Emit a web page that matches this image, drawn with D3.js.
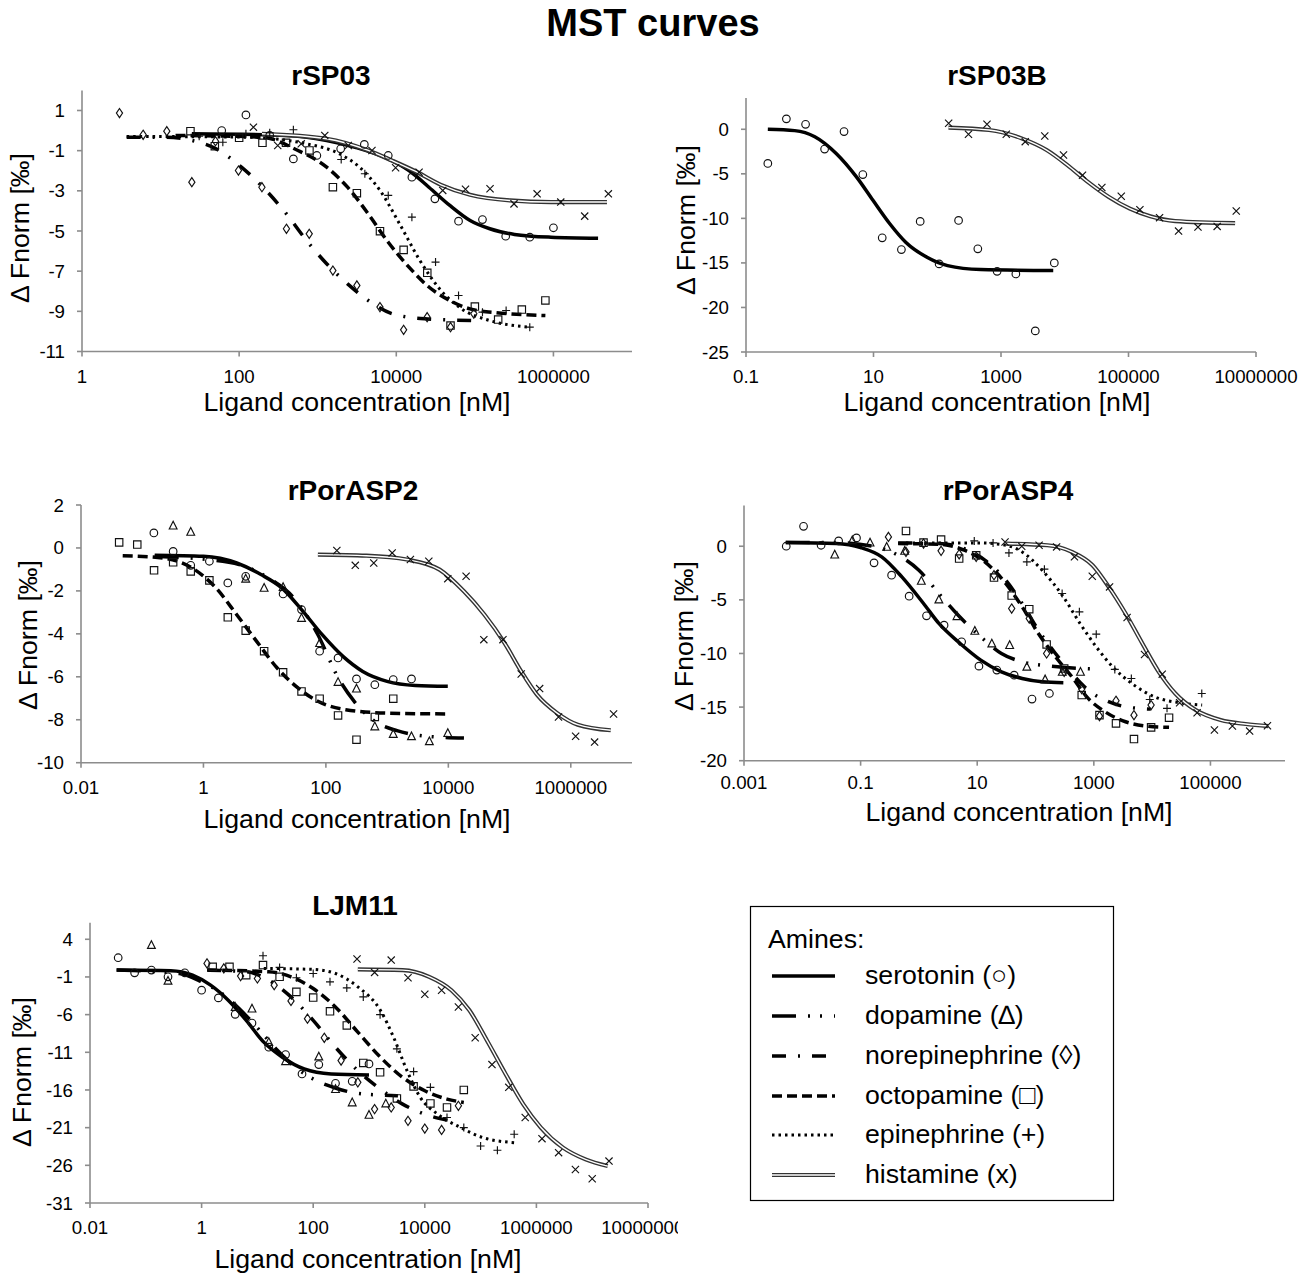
<!DOCTYPE html>
<html><head><meta charset="utf-8">
<script src="https://cdn.jsdelivr.net/npm/d3@7"></script>
<style>
body{margin:0;background:#fff}
svg{display:block}
text{font-family:"Liberation Sans",Arial,Helvetica,sans-serif;fill:#000}
</style>
</head><body>
<svg id="c" width="1299" height="1281"></svg>
<script>
// ---------------- DATA ----------------
const amines = ["serotonin","dopamine","norepinephrine","octopamine","epinephrine","histamine"];
const legendLabels = ["serotonin (\u25CB)","dopamine (\u2206)","norepinephrine (\u25CA)","octopamine (\u25A1)","epinephrine (+)","histamine (x)"];

// tick labels
const rSP03_xTicks = [1,100,10000,1000000];
const rSP03_yTicks = [1,-1,-3,-5,-7,-9,-11];
const rSP03B_xTicks = [0.1,10,1000,100000,10000000];
const rSP03B_yTicks = [0,-5,-10,-15,-20,-25];
const rPorASP2_xTicks = [0.01,1,100,10000,1000000];
const rPorASP2_yTicks = [2,0,-2,-4,-6,-8,-10];
const rPorASP4_xTicks = [0.001,0.1,10,1000,100000];
const rPorASP4_yTicks = [0,-5,-10,-15,-20];
const LJM11_xTicks = [0.01,1,100,10000,1000000,100000000];
const LJM11_yTicks = [4,-1,-6,-11,-16,-21,-26,-31];

// measured points [concentration nM, dFnorm]
const rSP03_points = {
  serotonin: [[60,0.0],[122,0.78],[245,-0.24],[490,-1.41],[975,-1.24],[1960,-0.91],[3920,-0.69],[7900,-1.24],[15800,-2.32],[31000,-3.40],[62000,-4.51],[125000,-4.43],[247000,-5.26],[500000,-5.31],[1000000,-4.84]],
  norepinephrine: [[3,0.87],[6,-0.21],[12,-0.03],[25,-2.57],[50,-0.53],[98,-1.99],[195,-2.82],[400,-4.89],[780,-5.14],[1560,-6.97],[3150,-7.71],[6200,-8.79],[12400,-9.92],[24700,-9.29],[49000,-9.79],[97000,-9.12]],
  octopamine: [[24,-0.03],[49,-0.78],[100,-0.36],[198,-0.61],[395,-0.61],[785,-0.99],[1560,-2.82],[3150,-3.12],[6200,-5.01],[12400,-5.94],[24800,-7.08],[49000,-9.71],[100000,-8.76],[198000,-9.41],[396000,-8.91],[790000,-8.46]],
  epinephrine: [[31,-0.28],[62,-0.58],[122,-0.16],[245,-0.11],[490,0.04],[1990,-1.44],[3980,-2.15],[7900,-3.23],[15800,-4.31],[31600,-6.55],[62000,-8.21],[125000,-9.04],[250000,-8.96],[500000,-9.79]],
  histamine: [[152,0.17],[310,-0.74],[617,-0.66],[1230,-0.24],[2450,-0.74],[4900,-0.99],[9800,-1.85],[19500,-2.07],[39000,-2.98],[76000,-2.92],[156000,-2.90],[315000,-3.65],[620000,-3.15],[1240000,-3.56],[2500000,-4.26],[5000000,-3.15]]
};
const rSP03_fits = {
  serotonin: [[25,-0.16],[400,-0.24],[1300,-0.49],[3000,-0.83],[7900,-1.41],[14500,-1.99],[26000,-2.82],[48000,-3.73],[87000,-4.48],[155000,-4.89],[320000,-5.17],[930000,-5.31],[3700000,-5.36]],
  norepinephrine: [[3.7,-0.33],[11,-0.33],[25,-0.49],[51,-0.91],[107,-1.82],[220,-2.98],[400,-4.15],[720,-5.47],[1300,-6.63],[2400,-7.63],[4400,-8.46],[8900,-9.12],[23000,-9.37],[98000,-9.46]],
  octopamine: [[15.5,-0.24],[195,-0.33],[560,-0.99],[1300,-1.82],[2400,-2.82],[4400,-4.15],[7900,-5.56],[14500,-6.80],[26000,-7.79],[48000,-8.46],[87000,-8.88],[220000,-9.09],[790000,-9.21]],
  epinephrine: [[3.7,-0.29],[120,-0.33],[720,-0.66],[1900,-1.16],[3400,-1.82],[6200,-2.98],[11000,-4.64],[20000,-6.47],[37000,-7.96],[68000,-8.88],[155000,-9.46],[510000,-9.79]],
  histamine: [[195,-0.16],[1300,-0.41],[4400,-0.99],[8900,-1.50],[18000,-2.05],[37000,-2.70],[87000,-3.20],[280000,-3.48],[930000,-3.56],[4800000,-3.56]]
};

const rSP03B_points = {
  serotonin: [[0.22,-3.83],[0.43,1.17],[0.86,0.56],[1.71,-2.22],[3.45,-0.26],[6.8,-5.08],[13.7,-12.18],[27.4,-13.5],[54,-10.34],[107,-15.11],[216,-10.23],[433,-13.42],[869,-15.94],[1710,-16.24],[3450,-22.63],[6860,-15.0]],
  histamine: [[151,0.68],[309,-0.56],[603,0.56],[1210,-0.56],[2400,-1.39],[4860,-0.75],[9560,-2.89],[19000,-5.15],[38200,-6.54],[77000,-7.52],[151000,-9.02],[307000,-9.92],[610000,-11.43],[1230000,-10.98],[2460000,-10.90],[4900000,-9.17]]
};
const rSP03B_fits = {
  serotonin: [[0.22,0],[0.58,-0.15],[1.2,-0.83],[2.6,-2.71],[5.4,-5.34],[9.8,-7.97],[18,-10.6],[32,-12.67],[69,-14.36],[145,-15.3],[480,-15.75],[6600,-15.86]],
  histamine: [[150,0.19],[650,-0.08],[2100,-1.02],[5200,-2.33],[11000,-4.02],[23000,-5.90],[49000,-7.59],[105000,-8.91],[220000,-9.77],[540000,-10.3],[4700000,-10.53]]
};

const rPorASP2_points = {
  serotonin: [[0.155,0.70],[0.32,-0.16],[0.62,-0.81],[1.25,-0.62],[2.5,-1.63],[4.9,-1.32],[20,-2.14],[40,-2.87],[79,-4.81],[158,-5.12],[316,-6.10],[630,-6.37],[1260,-6.13],[2500,-6.10]],
  dopamine: [[0.32,1.04],[0.62,0.75],[4.9,-1.43],[9.8,-1.86],[20,-1.82],[40,-3.26],[79,-4.43],[158,-6.24],[316,-6.55],[630,-8.31],[1260,-8.66],[2500,-8.77],[4900,-9.0],[9800,-8.62]],
  octopamine: [[0.042,0.26],[0.083,0.16],[0.156,-1.04],[0.32,-0.67],[0.62,-1.09],[1.25,-1.51],[2.5,-3.23],[4.9,-3.85],[9.8,-4.81],[20,-5.79],[40,-6.68],[79,-7.02],[158,-7.80],[316,-8.93],[630,-7.87],[1260,-7.02]],
  histamine: [[151,-0.12],[302,-0.81],[605,-0.70],[1210,-0.23],[2400,-0.54],[4800,-0.62],[9800,-1.43],[19500,-1.32],[38000,-4.27],[78000,-4.27],[155000,-5.87],[310000,-6.55],[630000,-7.87],[1200000,-8.77],[2450000,-9.04],[5000000,-7.73]]
};
const rPorASP2_fits = {
  serotonin: [[0.16,-0.34],[1.0,-0.39],[3.5,-0.70],[8.7,-1.24],[19,-1.86],[40,-2.87],[87,-4.04],[190,-5.05],[400,-5.75],[1000,-6.21],[2900,-6.40],[9800,-6.44]],
  dopamine: [[0.16,-0.39],[2.6,-0.67],[12,-1.43],[30,-2.33],[74,-4.04],[160,-6.06],[290,-7.14],[630,-8.07],[1450,-8.51],[4600,-8.77],[18000,-8.85]],
  octopamine: [[0.048,-0.36],[0.22,-0.47],[0.65,-0.93],[1.6,-1.86],[3.5,-3.11],[7.4,-4.35],[16,-5.59],[35,-6.52],[74,-7.14],[210,-7.53],[1000,-7.69],[9800,-7.73]],
  histamine: [[74,-0.31],[460,-0.36],[2100,-0.54],[7200,-1.01],[18000,-2.02],[39000,-3.11],[83000,-4.43],[155000,-5.75],[280000,-6.83],[600000,-7.69],[1300000,-8.23],[4500000,-8.49]]
};

const rPorASP4_points = {
  serotonin: [[0.0053,0],[0.0105,1.86],[0.021,0.09],[0.042,0.5],[0.085,0.78],[0.17,-1.55],[0.34,-2.70],[0.68,-4.66],[1.35,-6.49],[2.7,-7.36],[5.4,-8.91],[10.7,-11.18],[21.7,-11.55],[43,-12.02],[87,-14.25],[173,-13.73]],
  dopamine: [[0.036,-0.78],[0.072,0.56],[0.145,0.34],[0.28,-0.06],[0.57,-0.43],[1.1,-3.23],[2.2,-4.97],[4.5,-6.52],[9.1,-7.89],[17.8,-9.07],[36,-9.22],[71,-11.24],[146,-12.42],[288,-11.71],[590,-11.71]],
  norepinephrine: [[0.30,0.87],[0.60,-0.53],[1.2,0.25],[2.4,-0.43],[4.9,-0.75],[9.6,-0.99],[19.4,-2.70],[39,-5.81],[78,-6.74],[155,-10.0],[310,-11.71],[620,-13.32],[1250,-15.84],[2400,-14.41],[4880,-15.75],[9600,-14.81]],
  octopamine: [[0.60,1.43],[1.2,0.34],[2.4,0.62],[4.9,-1.15],[9.6,-0.84],[19.4,-2.92],[39,-4.60],[78,-5.87],[155,-9.16],[310,-11.4],[620,-13.88],[1250,-15.75],[2400,-16.52],[4880,-17.98],[9600,-16.89],[19500,-15.99]],
  epinephrine: [[8.9,0.5],[18.7,0.31],[35,-0.62],[71,-1.46],[142,-2.14],[286,-4.41],[565,-6.12],[1100,-8.2],[2290,-11.49],[4400,-12.33],[9100,-14.29],[18000,-15.12],[71000,-13.73]],
  histamine: [[30,0.4],[58,0],[115,0.09],[230,-0.06],[465,-0.99],[940,-2.80],[1860,-3.79],[3720,-6.65],[7400,-10.09],[14900,-11.93],[29600,-14.6],[59000,-15.53],[117000,-17.14],[238000,-16.77],[470000,-17.24],[950000,-16.74]]
};
const rPorASP4_fits = {
  serotonin: [[0.0052,0.34],[0.038,0.25],[0.1,-0.12],[0.23,-0.99],[0.51,-2.86],[1.2,-5.34],[2.2,-7.2],[5.1,-9.07],[11.5,-10.62],[26,-11.71],[59,-12.33],[130,-12.64],[300,-12.73]],
  dopamine: [[0.0052,0.34],[0.038,0.34],[0.16,0],[0.44,-0.84],[1.0,-2.24],[2.2,-4.41],[5.0,-6.58],[11.5,-8.45],[26,-10.0],[59,-10.78],[160,-11.15],[1100,-11.46]],
  norepinephrine: [[0.44,0.31],[2.2,0.25],[6.0,-0.22],[13.5,-1.30],[31,-3.17],[59,-5.34],[112,-7.83],[220,-10.0],[420,-11.86],[800,-13.42],[1550,-14.35],[3500,-14.97],[9500,-15.19]],
  octopamine: [[0.44,0.25],[2.2,0.19],[6.0,-0.37],[13.5,-1.46],[31,-3.48],[59,-5.65],[112,-8.14],[220,-10.31],[420,-12.17],[800,-14.19],[1550,-15.43],[3500,-16.37],[7900,-16.77],[19500,-16.89]],
  epinephrine: [[0.6,0.31],[11.5,0.31],[31,0.09],[59,-0.53],[130,-2.24],[300,-4.72],[580,-7.2],[1100,-9.38],[2100,-11.24],[4900,-12.95],[11000,-14.04],[30000,-14.6],[72000,-14.81]],
  histamine: [[31,0.25],[160,0.09],[420,-0.53],[950,-1.77],[1800,-3.79],[3500,-6.27],[6800,-9.07],[13000,-11.71],[25000,-13.73],[56000,-15.28],[150000,-16.21],[400000,-16.58],[980000,-16.77]]
};

const LJM11_points = {
  serotonin: [[0.032,1.55],[0.063,-0.45],[0.126,-0.09],[0.25,-0.98],[0.5,-0.45],[1.0,-2.76],[2.0,-3.78],[4.0,-5.96],[8,-7.12],[16,-10.32],[32,-11.30],[63,-13.87],[126,-12.63],[251,-15.12],[500,-14.85],[1000,-12.54]],
  dopamine: [[0.126,3.24],[0.25,-1.51],[4.0,-4.98],[8.0,-5.2],[16,-9.65],[32,-12.18],[126,-11.56],[251,-15.88],[500,-17.65],[1000,-19.3],[2000,-17.79]],
  norepinephrine: [[1.25,0.80],[2.5,0.13],[5,-0.89],[10,-1.2],[20,-2.09],[40,-4.18],[79,-6.54],[158,-9.07],[316,-12.1],[631,-14.99],[1260,-18.54],[2500,-18.32],[5000,-20.1],[10000,-21.12],[20000,-21.3],[40000,-18.1]],
  octopamine: [[1.58,0.35],[3.16,0.35],[6.3,-0.76],[12.6,0.58],[25,-0.98],[50,-2.98],[100,-3.74],[200,-5.56],[400,-7.43],[790,-12.41],[1580,-13.65],[3160,-17.12],[6300,-15.52],[12600,-17.79],[25000,-18.32],[50000,-16.0]],
  epinephrine: [[12.6,1.82],[25,0.27],[50,-1.11],[100,-0.54],[200,-1.65],[400,-2.45],[790,-3.65],[1580,-6.0],[3160,-10.54],[6300,-13.56],[12600,-15.65],[25000,-19.65],[50000,-20.99],[100000,-23.43],[200000,-24.0],[400000,-21.88]],
  histamine: [[610,1.38],[1260,-0.4],[2500,1.24],[5000,-1.11],[10000,-3.29],[20000,-2.76],[40000,-4.98],[80000,-9.07],[160000,-12.63],[320000,-15.65],[630000,-19.65],[1260000,-22.46],[2500000,-24.32],[5000000,-26.55],[10000000,-27.79],[20000000,-25.44]]
};
const LJM11_fits = {
  serotonin: [[0.03,-0.09],[0.28,-0.18],[0.69,-0.76],[1.45,-2.09],[3.0,-4.09],[6.3,-6.76],[13,-9.65],[28,-11.65],[69,-13.21],[210,-13.87],[1000,-14.0]],
  dopamine: [[0.03,-0.09],[0.4,-0.54],[1.0,-1.65],[2.1,-2.98],[4.4,-4.98],[11,-8.09],[23,-10.76],[48,-12.99],[100,-14.54],[250,-15.74],[630,-16.45],[3300,-16.77]],
  norepinephrine: [[1.26,-0.09],[6.3,-0.31],[16,-1.42],[40,-3.65],[100,-6.76],[250,-10.32],[630,-13.43],[1600,-15.88],[4000,-17.88],[10000,-19.21],[25000,-20.01],[40000,-20.32]],
  octopamine: [[1.26,-0.09],[16,-0.31],[40,-0.98],[100,-2.54],[250,-4.98],[630,-8.32],[1600,-11.65],[4000,-14.32],[10000,-16.1],[25000,-17.21],[50000,-17.65]],
  epinephrine: [[13,0.13],[100,0],[250,-0.54],[630,-2.31],[1600,-5.43],[2750,-8.98],[4800,-13.43],[8300,-16.99],[17000,-19.21],[44000,-20.99],[110000,-22.32],[400000,-22.99]],
  histamine: [[630,0],[4000,-0.09],[12000,-0.98],[30000,-2.76],[63000,-5.43],[130000,-9.43],[280000,-13.87],[580000,-17.88],[1200000,-20.99],[3000000,-23.65],[7600000,-25.21],[19000000,-26.1]]
};

// ---------------- LAYOUT ----------------
const panels = [
  {title:"rSP03", pts:rSP03_points, fit:rSP03_fits, xTicks:rSP03_xTicks, yTicks:rSP03_yTicks,
   xDom:[1,1e7], xR:[82,632], yDom:[-11,2], yR:[351.5,90.4], tXY:[331,85], yl:[20,228], xl:[357,411], tb:31},
  {title:"rSP03B", pts:rSP03B_points, fit:rSP03B_fits, xTicks:rSP03B_xTicks, yTicks:rSP03B_yTicks,
   xDom:[0.1,1e7], xR:[746,1256], yDom:[-25,3.5], yR:[352,98.1], tXY:[997,85], yl:[686,220], xl:[997,411], tb:31},
  {title:"rPorASP2", pts:rPorASP2_points, fit:rPorASP2_fits, xTicks:rPorASP2_xTicks, yTicks:rPorASP2_yTicks,
   xDom:[0.01,1e7], xR:[81,632], yDom:[-10,2], yR:[762.7,505], tXY:[353,500], yl:[28,635], xl:[357,828], tb:31},
  {title:"rPorASP4", pts:rPorASP4_points, fit:rPorASP4_fits, xTicks:rPorASP4_xTicks, yTicks:rPorASP4_yTicks,
   xDom:[0.001,1.9e6], xR:[744,1285], yDom:[-20,3.8], yR:[760.7,505.5], tXY:[1008,500], yl:[684,636], xl:[1019,821], tb:28.5},
  {title:"LJM11", pts:LJM11_points, fit:LJM11_fits, xTicks:LJM11_xTicks, yTicks:LJM11_yTicks,
   xDom:[0.01,1e8], xR:[90,648], yDom:[-31,6.2], yR:[1203,922.7], tXY:[355,915], yl:[22,1072], xl:[368,1268], tb:31, clipX:678}
];

const lineStyle = {
  serotonin:{w:3.5,dash:null},
  dopamine:{w:3.5,dash:"24,12,2,10,2,12"},
  norepinephrine:{w:3.5,dash:"14,12,2,12"},
  octopamine:{w:3.5,dash:"10,5"},
  epinephrine:{w:3,dash:"2.5,4"}
};
const markerOf = {serotonin:"circle",dopamine:"triangle",norepinephrine:"diamond",octopamine:"square",epinephrine:"plus",histamine:"cross"};

function markerPath(t){
  switch(t){
    case "circle": return `M${-3.8},0a3.8,3.8 0 1,0 7.6,0a3.8,3.8 0 1,0 -7.6,0`;
    case "square": return `M-3.7,-3.7H3.7V3.7H-3.7Z`;
    case "triangle": return `M0,-4.3L3.9,3.4H-3.9Z`;
    case "diamond": return `M0,-4.6L3.1,0L0,4.6L-3.1,0Z`;
    case "plus": return `M-4,0H4M0,-4V4`;
    case "cross": return `M-3.6,-3.6L3.6,3.6M-3.6,3.6L3.6,-3.6`;
  }
}

const svg = d3.select("#c");
const AX = "#8c8c8c";

svg.append("text").attr("x",653).attr("y",35.5).attr("text-anchor","middle")
  .style("font-size","38px").style("font-weight","bold").text("MST curves");

const defs = svg.append("defs");

panels.forEach((p,i)=>{
  const g = svg.append("g");
  const x = d3.scaleLog().domain(p.xDom).range(p.xR);
  const y = d3.scaleLinear().domain(p.yDom).range(p.yR);
  const x0=p.xR[0], y0=p.yR[0];

  g.append("text").attr("x",p.tXY[0]).attr("y",p.tXY[1]).attr("text-anchor","middle")
    .style("font-size","28px").style("font-weight","bold").text(p.title);

  g.append("line").attr("x1",x0).attr("x2",p.xR[1]).attr("y1",y0).attr("y2",y0)
    .attr("stroke",AX).attr("stroke-width",1.6);
  g.append("line").attr("x1",x0).attr("x2",x0).attr("y1",y0).attr("y2",p.yR[1])
    .attr("stroke",AX).attr("stroke-width",1.6);

  let tickG = g.append("g");
  if(p.clipX){
    defs.append("clipPath").attr("id","clip"+i).append("rect")
      .attr("x",0).attr("y",y0).attr("width",p.clipX).attr("height",60);
    tickG.attr("clip-path",`url(#clip${i})`);
  }
  p.xTicks.forEach(t=>{
    g.append("line").attr("x1",x(t)).attr("x2",x(t)).attr("y1",y0).attr("y2",y0+5)
      .attr("stroke",AX).attr("stroke-width",1.6);
    tickG.append("text").attr("x",x(t)).attr("y",y0+p.tb).attr("text-anchor","middle")
      .style("font-size","18.7px").text(String(t));
  });
  p.yTicks.forEach(t=>{
    g.append("line").attr("x1",x0-5).attr("x2",x0).attr("y1",y(t)).attr("y2",y(t))
      .attr("stroke",AX).attr("stroke-width",1.6);
    g.append("text").attr("x",x0-17).attr("y",y(t)).attr("dy","0.35em").attr("text-anchor","end")
      .style("font-size","18.7px").text(String(t));
  });

  g.append("text").attr("x",p.xl[0]).attr("y",p.xl[1]).attr("text-anchor","middle")
    .style("font-size","26.7px").text("Ligand concentration [nM]");
  g.append("text").attr("transform",`translate(${p.yl[0]},${p.yl[1]}) rotate(-90)`)
    .attr("dy","0.35em").attr("text-anchor","middle")
    .style("font-size","26.7px").text("\u0394 Fnorm [\u2030]");

  const line = d3.line().x(d=>x(d[0])).y(d=>y(d[1])).curve(d3.curveMonotoneX);

  amines.forEach(a=>{
    const f = p.fit[a]; if(!f) return;
    if(a==="histamine"){
      g.append("path").attr("d",line(f)).attr("fill","none").attr("stroke","#333").attr("stroke-width",4.2);
      g.append("path").attr("d",line(f)).attr("fill","none").attr("stroke","#fff").attr("stroke-width",1.4);
    } else {
      const st=lineStyle[a];
      g.append("path").attr("d",line(f)).attr("fill","none").attr("stroke","#000")
        .attr("stroke-width",st.w).attr("stroke-dasharray",st.dash);
    }
  });

  amines.forEach(a=>{
    const pts = p.pts[a]; if(!pts) return;
    g.append("g").selectAll("path").data(pts).join("path")
      .attr("transform",d=>`translate(${x(d[0])},${y(d[1])})`)
      .attr("d",markerPath(markerOf[a]))
      .attr("fill","none").attr("stroke","#111").attr("stroke-width",1.15);
  });
});

// ---------------- LEGEND ----------------
const lg = svg.append("g");
lg.append("rect").attr("x",750.5).attr("y",906.5).attr("width",363).attr("height",294)
  .attr("fill","none").attr("stroke","#000").attr("stroke-width",1.2);
lg.append("text").attr("x",768).attr("y",948).style("font-size","26.7px").text("Amines:");
const rowY = [976,1016,1056,1096,1135,1175];
amines.forEach((a,i)=>{
  const yy=rowY[i];
  if(a==="histamine"){
    lg.append("line").attr("x1",772).attr("x2",835).attr("y1",yy).attr("y2",yy).attr("stroke","#333").attr("stroke-width",4.2);
    lg.append("line").attr("x1",772).attr("x2",835).attr("y1",yy).attr("y2",yy).attr("stroke","#fff").attr("stroke-width",1.4);
  } else {
    const st=lineStyle[a];
    lg.append("line").attr("x1",772).attr("x2",835).attr("y1",yy).attr("y2",yy)
      .attr("stroke","#000").attr("stroke-width",st.w).attr("stroke-dasharray",st.dash);
  }
  lg.append("text").attr("x",865).attr("y",yy+8).style("font-size","26.7px").text(legendLabels[i]);
});
</script>
</body></html>
